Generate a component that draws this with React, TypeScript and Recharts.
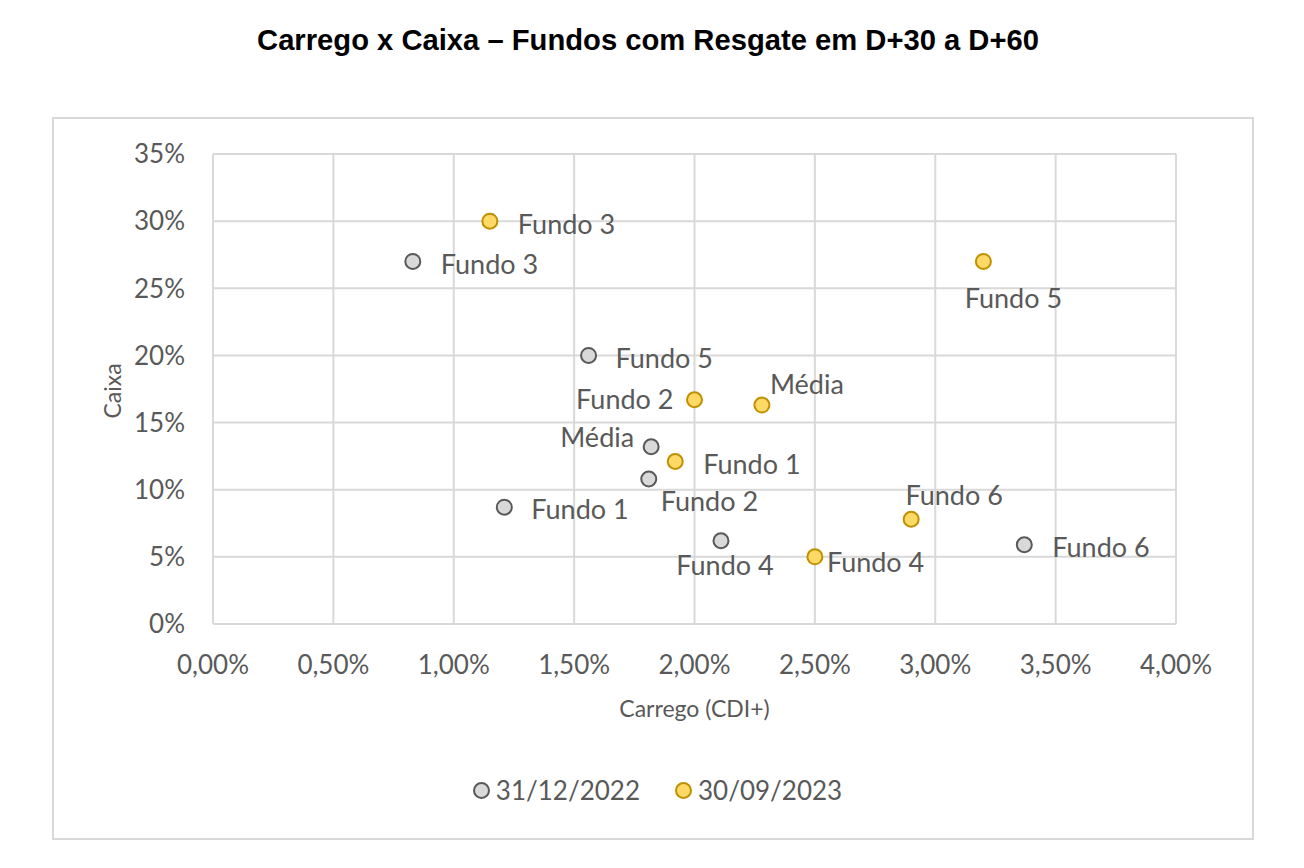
import React from "react";
import { ScatterChart, Scatter, XAxis, YAxis, CartesianGrid, Legend } from "recharts";

const fundNames = ["Fundo 1", "Fundo 2", "Fundo 3", "Fundo 4", "Fundo 5", "Fundo 6", "Média"];

// carrego (CDI+) and caixa, one value per fund, in fundNames order
const carrego2022 = [0.0121, 0.0181, 0.0083, 0.0211, 0.0156, 0.0337, 0.0182];
const caixa2022 = [0.087, 0.108, 0.27, 0.062, 0.2, 0.059, 0.132];

const carrego2023 = [0.0192, 0.02, 0.0115, 0.025, 0.032, 0.029, 0.0228];
const caixa2023 = [0.121, 0.167, 0.3, 0.05, 0.27, 0.078, 0.163];

const xTicks = [0, 0.005, 0.01, 0.015, 0.02, 0.025, 0.03, 0.035, 0.04];
const yTicks = [0, 0.05, 0.1, 0.15, 0.2, 0.25, 0.3, 0.35];

const seriesNames = ["31/12/2022", "30/09/2023"];

const data2022 = fundNames.map((name, i) => ({ name, x: carrego2022[i], y: caixa2022[i] }));
const data2023 = fundNames.map((name, i) => ({ name, x: carrego2023[i], y: caixa2023[i] }));

// label placement relative to the marker: [anchor, dx, dy]
const labels2022: Record<string, [string, number, number]> = {
  "Fundo 1": ["start", 27, 1],
  "Fundo 2": ["start", 12, 22],
  "Fundo 3": ["start", 28, 2],
  "Fundo 4": ["middle", 4, 24],
  "Fundo 5": ["start", 27, 2],
  "Fundo 6": ["start", 28, 2],
  "Média": ["end", -17, -10],
};
const labels2023: Record<string, [string, number, number]> = {
  "Fundo 1": ["start", 28, 2],
  "Fundo 2": ["end", -21, -1],
  "Fundo 3": ["start", 28, 2],
  "Fundo 4": ["start", 12, 5],
  "Fundo 5": ["middle", 30, 36],
  "Fundo 6": ["middle", 43, -25],
  "Média": ["start", 8, -22],
};

const TEXT = "#595959";
const GRID = "#d9d9d9";
const FONT = "Lato, 'Open Sans', sans-serif";

const GRAY = { fill: "#d9d9d9", stroke: "#595959" };
const GOLD = { fill: "#ffd966", stroke: "#bf9000" };

const pct = (v: number) => (v * 100).toFixed(2).replace(".", ",") + "%";
const pct0 = (v: number) => Math.round(v * 100) + "%";

function makeShape(colors: { fill: string; stroke: string }, placement: Record<string, [string, number, number]>) {
  return (props: any) => {
    const { cx, cy, payload } = props;
    const [anchor, dx, dy] = placement[payload.name] || ["start", 20, 0];
    return (
      <g>
        <circle cx={cx} cy={cy} r={7.5} fill={colors.fill} stroke={colors.stroke} strokeWidth={2} />
        <text
          x={cx + dx}
          y={cy + dy}
          textAnchor={anchor as any}
          dominantBaseline="central"
          fill={TEXT}
          fontSize={27}
          fontFamily={FONT}
        >
          {payload.name}
        </text>
      </g>
    );
  };
}

function LegendContent() {
  const items = [
    { label: seriesNames[0], c: GRAY },
    { label: seriesNames[1], c: GOLD },
  ];
  return (
    <div
      style={{
        display: "flex",
        justifyContent: "center",
        gap: 34,
        paddingLeft: 10,
        fontFamily: FONT,
        fontSize: 26,
        color: TEXT,
      }}
    >
      {items.map((it) => (
        <div key={it.label} style={{ display: "flex", alignItems: "center", gap: 5 }}>
          <svg width={19} height={19}>
            <circle cx={9.5} cy={9.5} r={7.5} fill={it.c.fill} stroke={it.c.stroke} strokeWidth={2} />
          </svg>
          <span>{it.label}</span>
        </div>
      ))}
    </div>
  );
}

export default function App() {
  return (
    <div style={{ position: "absolute", left: 0, top: 0, width: 1304, height: 868, background: "#fff" }}>
      <div
        style={{
          position: "absolute",
          top: 24,
          left: 0,
          width: 1296,
          textAlign: "center",
          fontFamily: "'Liberation Sans', Arial, sans-serif",
          fontWeight: "bold",
          fontSize: 29.2,
          color: "#000",
        }}
      >
        Carrego x Caixa – Fundos com Resgate em D+30 a D+60
      </div>
      <div
        style={{
          position: "absolute",
          left: 52,
          top: 117,
          width: 1198,
          height: 719,
          border: `2px solid ${GRID}`,
        }}
      />
      <div style={{ position: "absolute", left: 0, top: 0 }}>
        <ScatterChart width={1304} height={868} margin={{ top: 154, right: 128, bottom: 152, left: 93 }}>
          <CartesianGrid stroke={GRID} strokeWidth={2} horizontalValues={yTicks} verticalValues={xTicks} />
          <XAxis
            type="number"
            dataKey="x"
            domain={[0, 0.04]}
            ticks={xTicks}
            tickFormatter={pct}
            axisLine={false}
            tickLine={false}
            height={60}
            tick={{ fill: TEXT, fontSize: 26, fontFamily: FONT }}
            tickMargin={26}
            label={(p: any) => {
              const vb = p.viewBox;
              return (
                <text x={vb.x + vb.width / 2} y={vb.y + 84} textAnchor="middle" dominantBaseline="central" fill={TEXT} fontSize={23} fontFamily={FONT}>
                  Carrego (CDI+)
                </text>
              );
            }}
          />
          <YAxis
            type="number"
            dataKey="y"
            domain={[0, 0.35]}
            ticks={yTicks}
            tickFormatter={pct0}
            axisLine={false}
            tickLine={false}
            width={120}
            tick={{ fill: TEXT, fontSize: 26, fontFamily: FONT }}
            tickMargin={22}
            label={(p: any) => {
              const vb = p.viewBox;
              const cx = vb.x + 19;
              const cy = vb.y + vb.height / 2 + 2;
              return (
                <text x={cx} y={cy} transform={`rotate(-90 ${cx} ${cy})`} textAnchor="middle" dominantBaseline="central" fill={TEXT} fontSize={23} fontFamily={FONT}>
                  Caixa
                </text>
              );
            }}
          />
          <Scatter name={seriesNames[0]} data={data2022} shape={makeShape(GRAY, labels2022)} isAnimationActive={false} />
          <Scatter name={seriesNames[1]} data={data2023} shape={makeShape(GOLD, labels2023)} isAnimationActive={false} />
          <Legend
            content={<LegendContent />}
            wrapperStyle={{ position: "absolute", top: 774, left: 0, width: 1304 }}
          />
        </ScatterChart>
      </div>
    </div>
  );
}
